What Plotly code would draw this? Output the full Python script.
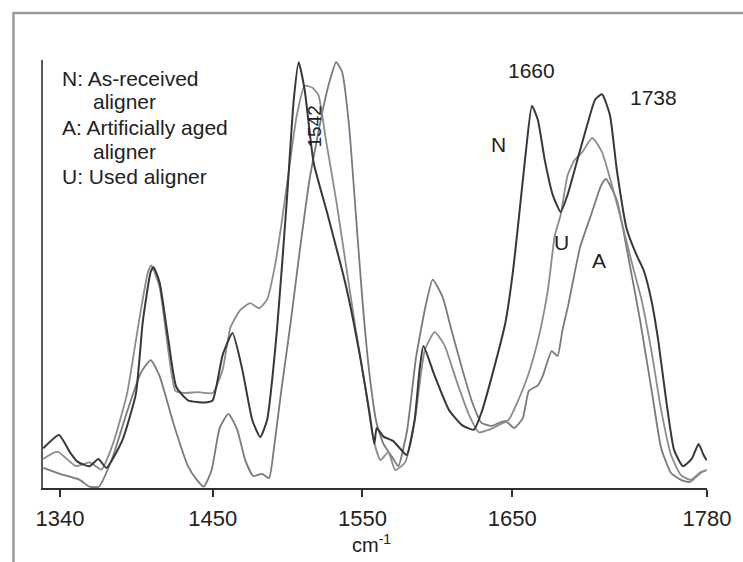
import plotly.graph_objects as go

# ---- data ----
n_x = [1336.9, 1347.4, 1354.6, 1359.9, 1367.8, 1373.7, 1379.0, 1389.5, 1398.7, 1403.3, 1408.6, 1410.5,
       1414.5, 1420.4, 1425.7, 1433.5, 1445.4, 1450.0, 1456.6, 1463.2, 1469.8, 1476.4, 1481.7, 1486.3,
       1492.9, 1499.5, 1504.1, 1507.4, 1511.4, 1517.4, 1526.8, 1539.1, 1548.6, 1554.6, 1557.9, 1559.5,
       1564.0, 1570.3, 1574.9, 1579.5, 1584.8, 1588.1, 1590.7, 1598.0, 1607.8, 1616.4, 1624.3, 1629.6,
       1637.5, 1645.4, 1650.6, 1654.6, 1659.2, 1663.1, 1667.1, 1671.7, 1677.0, 1682.3, 1686.9, 1693.4,
       1700.0, 1705.3, 1709.9, 1715.2, 1719.8, 1726.4, 1733.0, 1737.6, 1742.8, 1747.4, 1752.7, 1758.0,
       1763.9, 1769.8, 1774.4, 1777.7, 1779.7]
n_y = [9.3, 12.4, 8.4, 6.1, 5.1, 6.8, 4.7, 11.0, 22.0, 38.8, 50.5, 51.6,
       48.1, 34.6, 23.6, 20.5, 20.0, 20.5, 31.0, 36.2, 27.6, 15.9, 11.9, 15.9,
       36.9, 67.3, 90.7, 99.5, 93.0, 76.0, 63.8, 47.0, 30.3, 17.8, 10.3, 14.0,
       12.0, 11.0, 9.3, 7.7, 15.9, 27.6, 33.2, 26.4, 18.2, 14.7, 13.6, 17.8,
       27.6, 38.6, 51.0, 63.8, 79.0, 89.3, 86.0, 76.6, 68.5, 64.5, 68.5, 76.6,
       84.8, 90.7, 92.0, 87.1, 74.3, 60.5, 54.4, 51.0, 44.0, 34.6, 20.6, 8.9,
       5.1, 6.8, 10.3, 7.7, 6.5]

u_x = [1336.9, 1346.3, 1358.7, 1367.8, 1375.7, 1383.4, 1392.8, 1400.6, 1406.8, 1409.0, 1414.5, 1420.4,
       1425.1, 1431.0, 1440.0, 1450.0, 1456.6, 1461.9, 1468.5, 1475.0, 1481.0, 1486.3, 1491.6, 1496.3,
       1500.9, 1506.1, 1511.4, 1516.6, 1520.6, 1525.6, 1532.4, 1539.0, 1545.5, 1552.1, 1557.4, 1562.0,
       1567.2, 1571.9, 1578.5, 1585.0, 1591.6, 1598.2, 1604.7, 1612.6, 1621.2, 1627.7, 1634.3, 1640.9,
       1647.5, 1654.0, 1660.6, 1667.2, 1673.8, 1678.4, 1682.3, 1686.9, 1691.5, 1696.8, 1703.4, 1709.9,
       1716.5, 1723.1, 1729.7, 1736.3, 1742.8, 1749.4, 1756.0, 1762.6, 1769.2, 1775.7, 1779.7]
u_y = [6.8, 8.5, 5.1, 6.0, 4.3, 10.3, 22.0, 38.6, 50.5, 52.0, 47.0, 32.0,
       22.7, 22.2, 22.4, 22.2, 27.6, 37.6, 41.6, 43.2, 42.0, 44.0, 52.0, 62.6,
       74.3, 87.0, 94.0, 93.5, 91.8, 81.3, 67.3, 52.0, 37.0, 23.0, 11.2, 6.5,
       8.4, 4.2, 6.0, 15.9, 32.2, 36.4, 33.4, 25.2, 17.0, 13.0, 13.6, 14.7,
       15.9, 20.5, 26.4, 34.6, 46.3, 59.0, 63.8, 73.0, 76.6, 78.5, 81.8, 78.5,
       70.8, 62.1, 52.8, 44.0, 32.2, 18.2, 7.7, 3.0, 1.9, 3.7, 4.2]

a_x = [1336.9, 1348.0, 1361.2, 1367.8, 1374.0, 1383.0, 1392.8, 1402.0, 1408.6, 1414.5, 1423.7, 1433.5,
       1439.4, 1444.0, 1449.3, 1454.6, 1460.5, 1466.4, 1471.7, 1477.0, 1482.9, 1487.6, 1490.9, 1495.5,
       1502.1, 1508.1, 1514.7, 1523.9, 1528.5, 1532.4, 1536.4, 1541.0, 1545.6, 1550.2, 1554.8, 1559.4,
       1564.0, 1570.6, 1573.9, 1579.8, 1585.7, 1592.3, 1596.9, 1603.5, 1609.4, 1617.3, 1623.9, 1629.5,
       1636.1, 1645.4, 1651.3, 1657.1, 1661.1, 1667.1, 1670.4, 1676.3, 1680.2, 1683.5, 1687.4, 1695.3,
       1702.6, 1709.2, 1712.5, 1719.8, 1727.6, 1735.5, 1743.4, 1749.4, 1756.0, 1762.6, 1768.5, 1775.7,
       1779.7]
a_y = [4.7, 3.3, 1.9, 0.3, 0.3, 7.0, 17.8, 26.9, 29.9, 26.2, 15.2, 5.1,
       1.9, 0.3, 4.2, 14.0, 17.3, 13.6, 6.5, 2.8, 3.3, 2.3, 9.3, 22.0,
       38.8, 55.4, 72.2, 89.0, 95.6, 99.5, 97.2, 84.8, 63.8, 42.8, 26.2, 15.2,
       10.3, 6.8, 5.1, 13.5, 30.4, 42.8, 48.7, 44.6, 36.9, 26.9, 19.4, 15.2,
       14.5, 15.7, 14.0, 16.4, 22.7, 24.0, 26.2, 32.0, 30.8, 36.9, 42.8, 56.3,
       63.8, 70.6, 72.2, 67.3, 53.7, 38.8, 22.0, 9.3, 3.5, 1.9, 1.4, 3.5,
       4.2]

tick_vals = [1348, 1450, 1550, 1650, 1780]
tick_text = ["1340", "1450", "1550", "1650", "1780"]

legend_lines = ["N: As-received", "aligner", "A: Artificially aged", "aligner", "U: Used aligner"]
peak_labels = ["1660", "1738", "1542"]
curve_labels = ["N", "U", "A"]

# ---- layout geometry (pixels) ----
W, H = 743, 562
L, R, T, B = 43, 25, 60, 74
PW, PH = W - L - R, H - T - B


def px(x):
    return (x - L) / PW


def py(y):
    return (H - B - y) / PH


FONT = "Liberation Sans, Arial, Helvetica, sans-serif"
TXT = "#222222"

fig = go.Figure()
fig.add_trace(go.Scatter(x=a_x, y=a_y, mode="lines", name="A",
                         line=dict(color="#7a7a7a", width=1.8, shape="spline", smoothing=0.5)))
fig.add_trace(go.Scatter(x=u_x, y=u_y, mode="lines", name="U",
                         line=dict(color="#8c8c8c", width=1.8, shape="spline", smoothing=0.5)))
fig.add_trace(go.Scatter(x=n_x, y=n_y, mode="lines", name="N",
                         line=dict(color="#383838", width=2, shape="spline", smoothing=0.5)))

ann = []
# legend block
leg_pos = [(60, 79), (92, 102), (60, 127), (92, 151), (60, 176)]
for txt, (xx, yy) in zip(legend_lines, leg_pos):
    ann.append(dict(text=txt, x=px(xx), y=py(yy), xref="paper", yref="paper",
                    xanchor="left", yanchor="middle", showarrow=False,
                    font=dict(family=FONT, size=21, color=TXT)))
# peak labels
for txt, (xx, yy), ang in zip(peak_labels, [(540, 71), (664, 98), (320, 126)], [0, 0, -90]):
    ann.append(dict(text=txt, x=px(xx), y=py(yy), xref="paper", yref="paper",
                    xanchor="center", yanchor="middle", showarrow=False, textangle=ang,
                    font=dict(family=FONT, size=21 if ang == 0 else 19, color=TXT)))
# curve letters
for txt, (xx, yy) in zip(curve_labels, [(506, 144), (570, 242), (608, 260)]):
    ann.append(dict(text=txt, x=px(xx), y=py(yy), xref="paper", yref="paper",
                    xanchor="center", yanchor="middle", showarrow=False,
                    font=dict(family=FONT, size=21, color=TXT)))
# axis title
ann.append(dict(text="cm<sup>-1</sup>", x=px(377), y=py(543), xref="paper", yref="paper",
                xanchor="center", yanchor="middle", showarrow=False,
                font=dict(family=FONT, size=20, color=TXT)))

fig.update_layout(
    width=W, height=H,
    margin=dict(l=L, r=R, t=T, b=B, pad=0),
    paper_bgcolor="white", plot_bgcolor="white",
    showlegend=False,
    annotations=ann,
    shapes=[dict(type="rect", xref="paper", yref="paper",
                 x0=px(13), x1=px(770), y0=py(600), y1=py(13),
                 line=dict(color="#9a9a9a", width=2.5), layer="below")],
    xaxis=dict(range=[1336.7, 1780], tickvals=tick_vals, ticktext=tick_text,
               showline=True, linecolor="#303030", linewidth=2,
               ticks="outside", ticklen=7, tickwidth=1.5, tickcolor="#303030",
               showgrid=False, zeroline=False,
               tickfont=dict(family=FONT, size=22, color=TXT), ticklabelstandoff=3),
    yaxis=dict(range=[0, 100], showline=True, linecolor="#5a5a5a", linewidth=2,
               showticklabels=False, ticks="", showgrid=False, zeroline=False),
)

fig.write_html("out.html")
